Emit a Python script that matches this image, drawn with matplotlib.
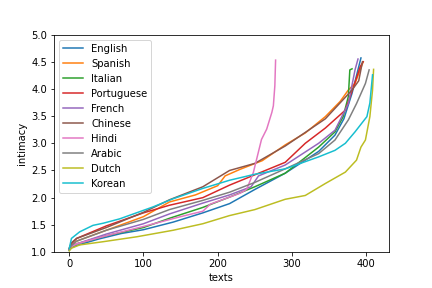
import matplotlib
matplotlib.use("Agg")
import matplotlib.pyplot as plt

# Отсортированные оценки intimacy по языкам (точки)
languages = ["English", "Spanish", "Italian", "Portuguese", "French",
             "Chinese", "Hindi", "Arabic", "Dutch", "Korean"]

english_x = [0, 3, 10, 40, 70, 100, 140, 180, 216, 250, 291, 336, 358, 370, 381, 388, 393]
english_y = [1.03, 1.08, 1.12, 1.24, 1.34, 1.41, 1.55, 1.72, 1.89, 2.15, 2.45, 2.85, 3.15, 3.45, 3.92, 4.30, 4.57]

spanish_x = [0, 3, 10, 50, 100, 135, 170, 200, 210, 230, 260, 291, 318, 345, 365, 376, 385, 396]
spanish_y = [1.05, 1.12, 1.20, 1.40, 1.65, 1.92, 2.05, 2.22, 2.40, 2.52, 2.68, 2.97, 3.19, 3.49, 3.77, 3.98, 4.10, 4.50]

italian_x = [0, 3, 10, 50, 100, 135, 180, 216, 250, 291, 336, 358, 369, 376, 378, 381]
italian_y = [1.04, 1.09, 1.15, 1.30, 1.45, 1.62, 1.82, 2.01, 2.20, 2.45, 2.93, 3.21, 3.49, 3.86, 4.35, 4.37]

portuguese_x = [0, 3, 10, 50, 100, 135, 180, 216, 250, 291, 318, 345, 372, 383, 392, 396]
portuguese_y = [1.06, 1.15, 1.25, 1.48, 1.72, 1.86, 2.00, 2.23, 2.42, 2.65, 3.00, 3.28, 3.61, 4.04, 4.41, 4.50]

french_x = [0, 3, 10, 50, 100, 135, 180, 216, 245, 255, 291, 336, 358, 376, 385, 389]
french_y = [1.04, 1.10, 1.15, 1.33, 1.52, 1.70, 1.90, 2.05, 2.20, 2.40, 2.60, 3.00, 3.24, 3.73, 4.35, 4.55]

chinese_x = [0, 3, 10, 50, 100, 135, 180, 216, 250, 291, 345, 381, 390, 395]
chinese_y = [1.07, 1.17, 1.25, 1.45, 1.73, 1.96, 2.20, 2.50, 2.63, 2.95, 3.45, 3.98, 4.15, 4.50]

hindi_x = [0, 3, 10, 50, 100, 150, 180, 190, 220, 230, 239, 248, 259, 266, 273, 275, 277, 278]
hindi_y = [1.05, 1.10, 1.15, 1.30, 1.47, 1.65, 1.75, 1.88, 2.03, 2.08, 2.15, 2.46, 3.07, 3.26, 3.57, 3.69, 4.06, 4.53]

arabic_x = [0, 3, 10, 50, 100, 135, 180, 216, 250, 291, 336, 358, 376, 387, 399, 404]
arabic_y = [1.05, 1.12, 1.20, 1.40, 1.60, 1.78, 1.95, 2.10, 2.28, 2.53, 2.81, 3.06, 3.43, 3.73, 4.10, 4.35]

dutch_x = [0, 3, 14, 46, 91, 140, 180, 216, 250, 291, 318, 345, 372, 387, 393, 399, 405, 408.6, 410]
dutch_y = [1.02, 1.07, 1.13, 1.19, 1.28, 1.40, 1.52, 1.67, 1.78, 1.97, 2.04, 2.26, 2.47, 2.69, 2.93, 3.06, 3.49, 3.98, 4.36]

korean_x = [0, 3, 14, 32, 46, 68, 113, 140, 180, 216, 250, 291, 336, 358, 372, 385, 401, 405, 408.6]
korean_y = [1.06, 1.25, 1.37, 1.49, 1.53, 1.61, 1.83, 1.98, 2.17, 2.32, 2.43, 2.53, 2.75, 2.87, 3.00, 3.21, 3.49, 3.74, 4.26]

xs = [english_x, spanish_x, italian_x, portuguese_x, french_x,
      chinese_x, hindi_x, arabic_x, dutch_x, korean_x]
ys = [english_y, spanish_y, italian_y, portuguese_y, french_y,
      chinese_y, hindi_y, arabic_y, dutch_y, korean_y]

plt.figure(figsize=(6, 4), dpi=72)
for name, x, y in zip(languages, xs, ys):
    plt.plot(x, y, label=name)

plt.ylim(1.0, 5.0)
plt.xlabel("texts")
plt.ylabel("intimacy")
plt.legend(loc="upper left")
plt.subplots_adjust(bottom=0.125)
plt.savefig("out.png")
plt.close()
